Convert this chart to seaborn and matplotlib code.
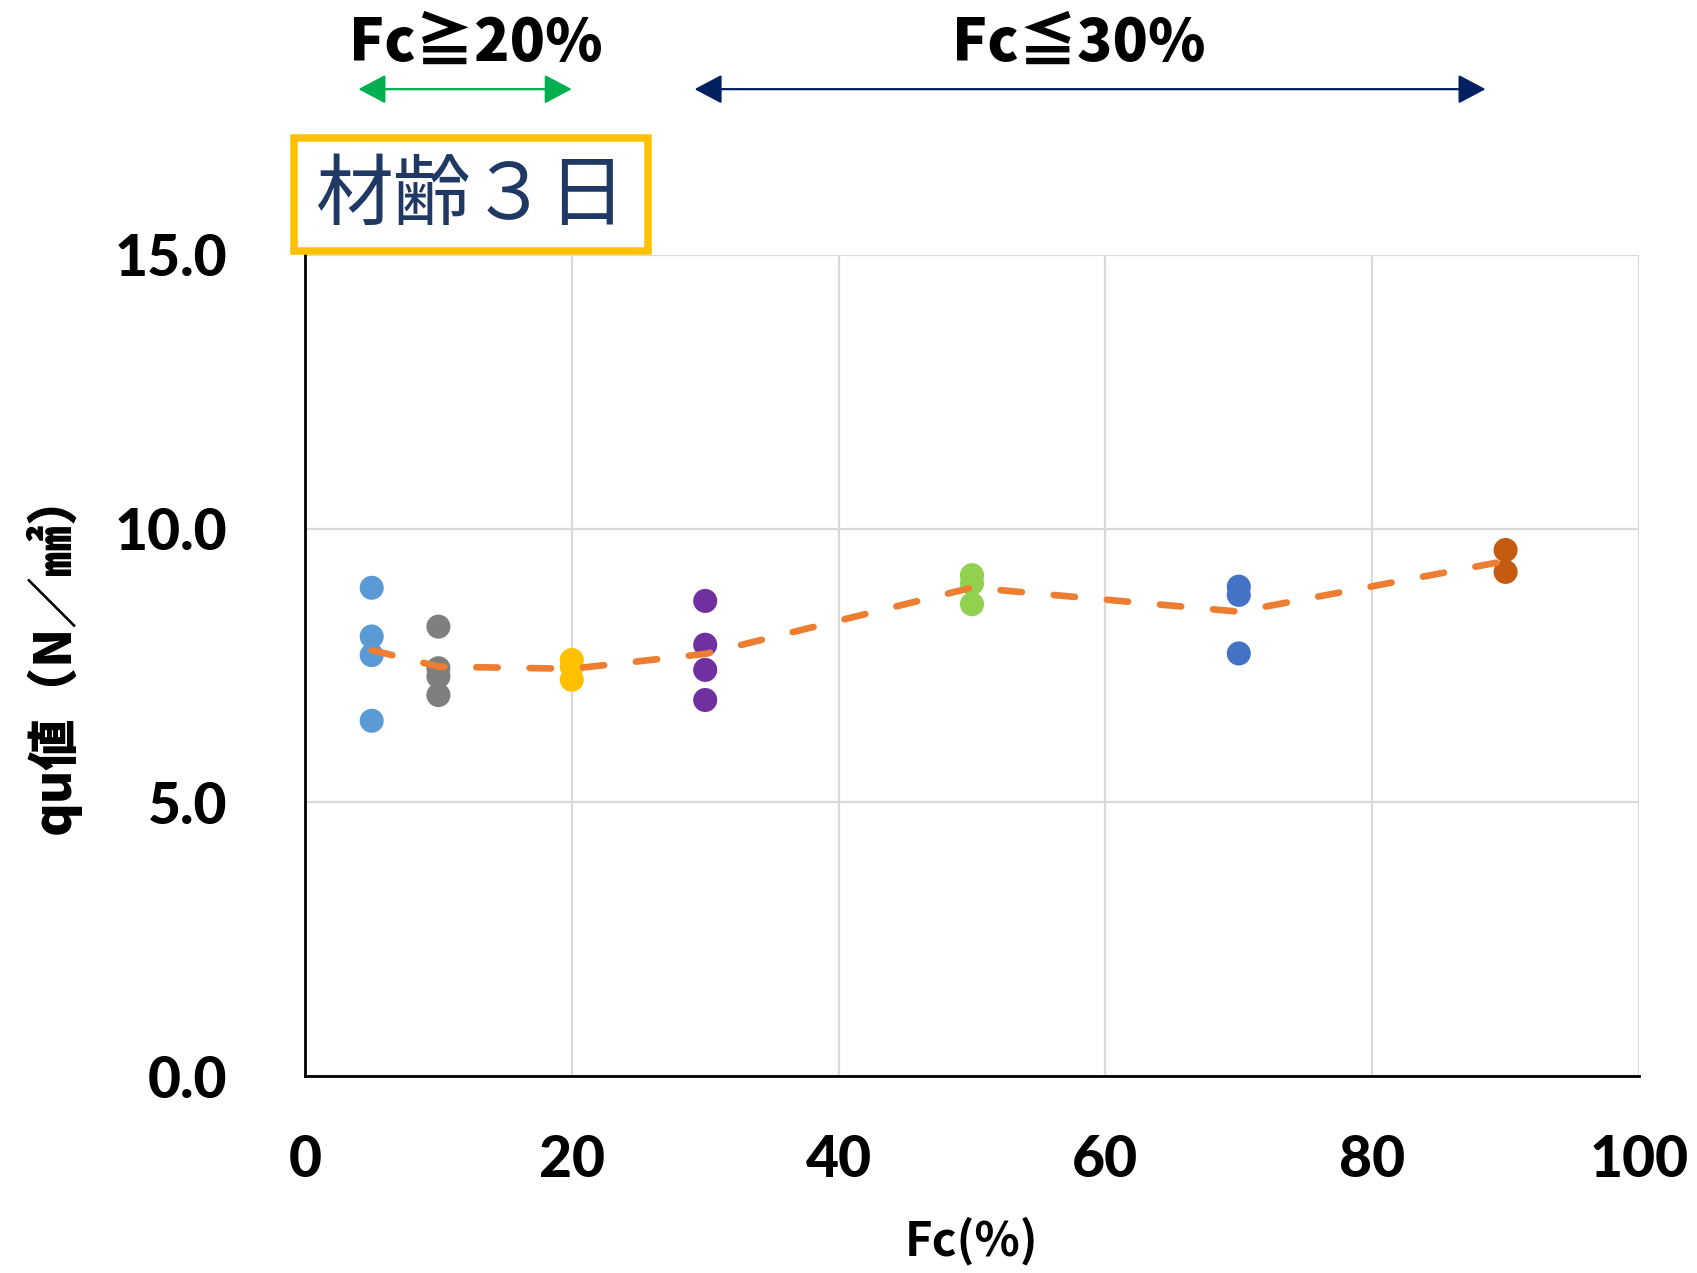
import numpy as np
import pandas as pd
import matplotlib
matplotlib.use("Agg")
import matplotlib.pyplot as plt
import matplotlib.transforms as mtransforms
from matplotlib.patches import Rectangle
from matplotlib.ticker import FormatStrFormatter
import seaborn as sns

# ---------------- data ----------------
fc_levels = [5, 10, 20, 30, 50, 70, 90]
qu_fc5 = [8.92, 8.03, 7.69, 6.49]
qu_fc10 = [8.21, 7.45, 7.30, 6.96]
qu_fc20 = [7.60, 7.48, 7.24]
qu_fc30 = [8.68, 7.88, 7.42, 6.87]
qu_fc50 = [9.15, 9.00, 8.62]
qu_fc70 = [8.94, 8.79, 7.72]
qu_fc90 = [9.61, 9.21]
group_names = ["Fc5", "Fc10", "Fc20", "Fc30", "Fc50", "Fc70", "Fc90"]
group_colors = ["#5B9BD5", "#7F7F7F", "#FFC000", "#7030A0", "#92D050", "#4472C4", "#C55A11"]
x_ticks = [0, 20, 40, 60, 80, 100]
y_ticks = [0, 5, 10, 15]
title_text = "材齢３日"
x_label = "Fc(%)"
y_label = "qu値（N／㎟）"
range_labels = ["Fc≧20%", "Fc≦30%"]
range_spans = [(4.0, 20.0), (29.2, 88.5)]
range_label_x = [12.8, 58.0]
range_colors = ["#00B050", "#002060"]

groups = [qu_fc5, qu_fc10, qu_fc20, qu_fc30, qu_fc50, qu_fc70, qu_fc90]
rows = []
for name, fc, vals in zip(group_names, fc_levels, groups):
    for v in vals:
        rows.append({"group": name, "Fc": fc, "qu": v})
df = pd.DataFrame(rows)

# ---------------- style ----------------
sns.set_theme(style="white")
plt.rcParams["font.family"] = ["Noto Sans CJK JP", "DejaVu Sans"]

fig = plt.figure(figsize=(16.97, 12.73), dpi=100)
ax = fig.add_axes([305 / 1697, 1 - 1076 / 1273, 1334 / 1697, 821 / 1273])

sns.scatterplot(data=df, x="Fc", y="qu", hue="group", hue_order=group_names,
                palette=group_colors, s=300, linewidth=0, legend=False,
                ax=ax, zorder=3)
sns.lineplot(data=df, x="Fc", y="qu", estimator="mean", errorbar=None,
             color="#ED7D31", lw=4.8, linestyle=(0, (3.2, 4.8)),
             dash_capstyle="round", ax=ax, zorder=4)

ax.set_xlim(0, 100)
ax.set_ylim(0, 15)
ax.set_xticks(x_ticks)
ax.set_yticks(y_ticks)
ax.yaxis.set_major_formatter(FormatStrFormatter("%.1f"))
ax.grid(True, color="#D9D9D9", lw=1.6)
ax.set_axisbelow(True)
for side in ["top", "right"]:
    ax.spines[side].set_visible(False)
for side in ["left", "bottom"]:
    ax.spines[side].set_color("black")
    ax.spines[side].set_linewidth(2.0)
    ax.spines[side].set_zorder(5)

ax.tick_params(axis="both", length=0)
ax.tick_params(axis="y", pad=56)
ax.tick_params(axis="x", pad=42)
for lab in ax.get_xticklabels() + ax.get_yticklabels():
    lab.set_fontfamily(["Lato", "DejaVu Sans"])
    lab.set_fontweight(900)
    lab.set_fontsize(41)
    lab.set_color("black")

ax.set_xlabel(x_label, fontsize=34, fontweight="bold", color="black",
              family=["Noto Sans CJK JP", "DejaVu Sans"])
ax.xaxis.set_label_coords(0.5, -0.172)
ax.set_ylabel(y_label, fontsize=37, fontweight="heavy", color="black",
              family=["Noto Sans CJK JP", "DejaVu Sans"])
ax.yaxis.set_label_coords(-0.168, 0.516)

# range annotations above the axes
trans = mtransforms.blended_transform_factory(ax.transData, ax.transAxes)
for lab, (x0, x1), lx, col in zip(range_labels, range_spans, range_label_x, range_colors):
    ax.annotate("", xy=(x1, 1.202), xytext=(x0, 1.202), xycoords=trans, textcoords=trans,
                annotation_clip=False,
                arrowprops=dict(arrowstyle="<|-|>,head_length=0.85,head_width=0.45",
                                color=col, lw=1.6, mutation_scale=20,
                                shrinkA=0, shrinkB=0))
    ax.text(lx, 1.258, lab, transform=trans, ha="center", va="center",
            fontsize=42, fontweight="heavy", color="black",
            family=["Noto Sans CJK JP", "DejaVu Sans"], clip_on=False)

# title box
lw_box = 5.4
fig.patches.append(Rectangle((294 / 1697, 1 - 251 / 1273), 354 / 1697, 113 / 1273,
                             transform=fig.transFigure, fill=True, fc="white",
                             ec="#FFC000", lw=lw_box, zorder=10))
fig.text(471 / 1697, 1 - 197 / 1273, title_text, ha="center", va="center",
         fontsize=56, color="#203864", family=["Noto Sans CJK JP", "DejaVu Sans"],
         zorder=11)

fig.savefig("out.png", dpi=100)
